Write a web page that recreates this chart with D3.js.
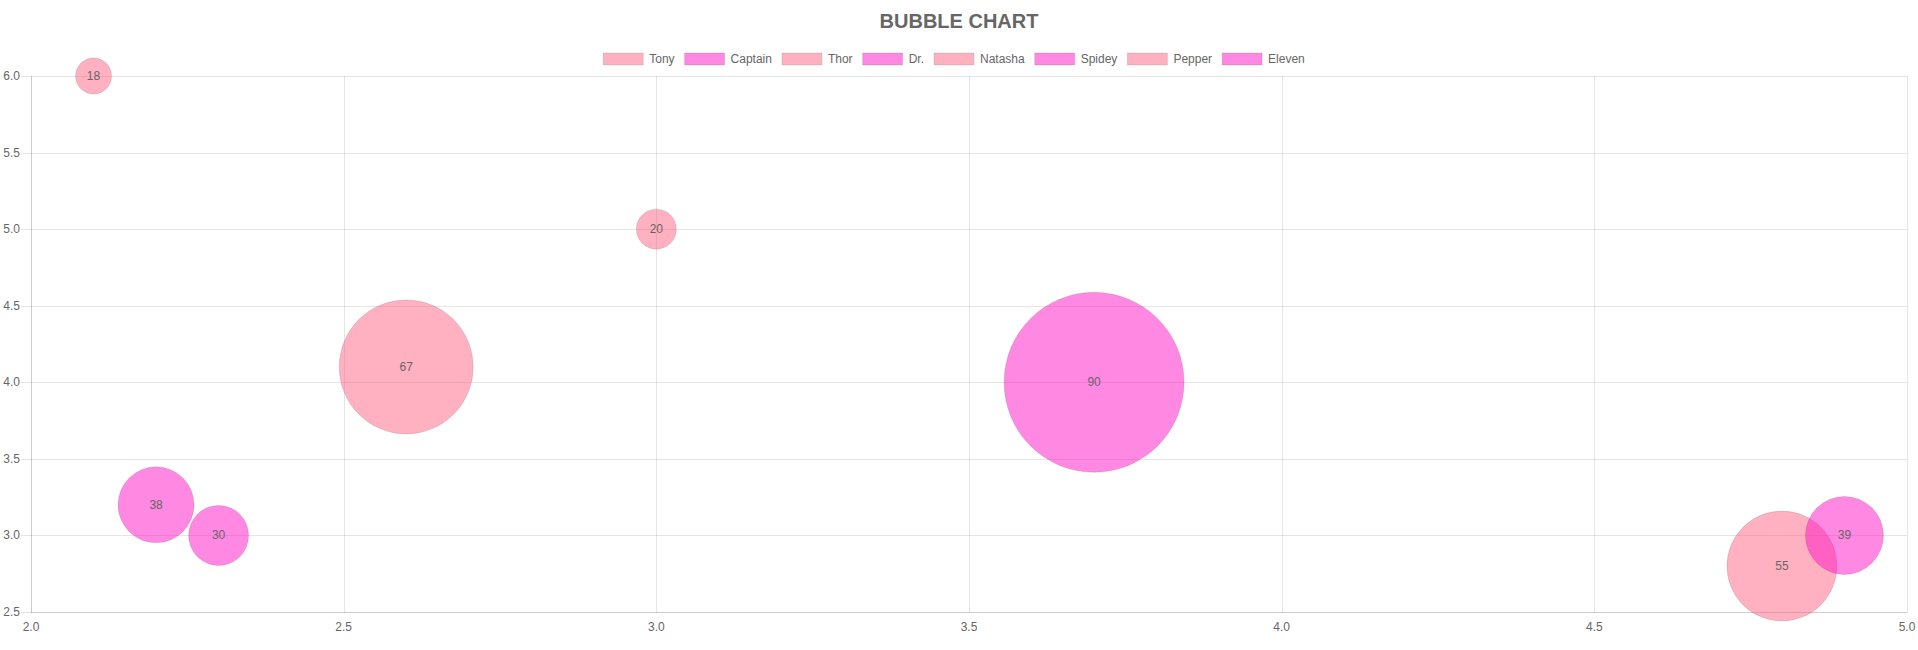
<!DOCTYPE html>
<html>
<head>
<meta charset="utf-8">
<style>
body { margin: 0; background: #fff; }
.tick-label { font: 12px Arial, "Liberation Sans", sans-serif; fill: #666; }
.grid { stroke: rgba(0,0,0,0.1); stroke-width: 1px; shape-rendering: crispEdges; }
.legendText { font: 12px Arial, "Liberation Sans", sans-serif; fill: #666; }
.bubbleLabel { font: 12px Arial, "Liberation Sans", sans-serif; fill: #666; }
</style>
<script src="https://cdn.jsdelivr.net/npm/d3@7"></script>
</head>
<body>
<div id="chart"></div>
<script>

const names = ["Tony", "Captain", "Thor", "Dr.", "Natasha", "Spidey", "Pepper", "Eleven"];
const xs = [2.1, 2.2, 2.6, 2.3, 3.0, 3.7, 4.8, 4.9];
const ys = [6.0, 3.2, 4.1, 3.0, 5.0, 4.0, 2.8, 3.0];
const rs = [18, 38, 67, 30, 20, 90, 55, 39];
const colors = ["rgba(255,99,132,0.5)", "rgba(255,17,197,0.5)"];
const xTicks = [2.0, 2.5, 3.0, 3.5, 4.0, 4.5, 5.0];
const yTicks = [2.5, 3.0, 3.5, 4.0, 4.5, 5.0, 5.5, 6.0];

const W = 1918, H = 650;
const svg = d3.select("#chart").append("svg")
  .attr("width", W)
  .attr("height", H)
  .style("display", "block");

const plotLeft = 31, plotRight = 1907, plotTop = 76, plotBottom = 612;

const x = d3.scaleLinear().domain([2, 5]).range([plotLeft, plotRight]);
const y = d3.scaleLinear().domain([2.5, 6]).range([plotBottom, plotTop]);

// title
svg.append("text")
  .attr("x", W / 2)
  .attr("y", 21)
  .attr("text-anchor", "middle")
  .attr("dominant-baseline", "central")
  .style("font", "bold 20px Arial, 'Liberation Sans', sans-serif")
  .style("fill", "#666")
  .text("BUBBLE CHART");

// grid
const gridG = svg.append("g");
gridG.selectAll(".hgrid")
  .data(yTicks)
  .enter()
  .append("line")
  .attr("class", "grid")
  .attr("x1", plotLeft - 10)
  .attr("x2", plotRight)
  .attr("y1", d => Math.round(y(d)) + 0.5)
  .attr("y2", d => Math.round(y(d)) + 0.5);

gridG.selectAll(".vgrid")
  .data(xTicks)
  .enter()
  .append("line")
  .attr("class", "grid")
  .attr("x1", d => Math.round(x(d)) + 0.5)
  .attr("x2", d => Math.round(x(d)) + 0.5)
  .attr("y1", plotTop)
  .attr("y2", plotBottom + 0.5);

// axis borders (drawn over the edge grid lines)
gridG.append("line").attr("class", "grid")
  .attr("x1", plotLeft).attr("x2", plotRight)
  .attr("y1", Math.round(y(2.5)) + 0.5).attr("y2", Math.round(y(2.5)) + 0.5);
gridG.append("line").attr("class", "grid")
  .attr("x1", Math.round(x(2)) + 0.5).attr("x2", Math.round(x(2)) + 0.5)
  .attr("y1", plotTop).attr("y2", plotBottom + 0.5);

// tick labels
svg.selectAll(".ylab")
  .data(yTicks)
  .enter()
  .append("text")
  .attr("class", "tick-label")
  .attr("x", 20)
  .attr("y", d => y(d))
  .attr("text-anchor", "end")
  .attr("dominant-baseline", "central")
  .text(d => d3.format(".1f")(d));

svg.selectAll(".xlab")
  .data(xTicks)
  .enter()
  .append("text")
  .attr("class", "tick-label")
  .attr("x", d => x(d))
  .attr("y", 627)
  .attr("text-anchor", "middle")
  .attr("dominant-baseline", "central")
  .text(d => d3.format(".1f")(d));

// bubbles
const data = names.map((n, i) => ({ name: n, x: xs[i], y: ys[i], r: rs[i], color: colors[i % 2] }));

const bubbles = svg.append("g").selectAll(".bubble")
  .data(data)
  .enter()
  .append("g")
  .attr("class", "bubble")
  .attr("transform", d => `translate(${x(d.x)}, ${y(d.y)})`);

bubbles.append("circle")
  .attr("r", d => d.r)
  .attr("fill", d => d.color)
  .attr("stroke", "rgba(0,0,0,0.1)")
  .attr("stroke-width", 1);

bubbles.append("text")
  .attr("class", "bubbleLabel")
  .attr("text-anchor", "middle")
  .attr("dominant-baseline", "central")
  .text(d => d.r);

// legend
const legendG = svg.append("g");
const boxW = 40, boxH = 12, gap = 6, pad = 10;
const items = legendG.selectAll(".legendItem")
  .data(data)
  .enter()
  .append("g")
  .attr("class", "legendItem");

items.append("rect")
  .attr("width", boxW)
  .attr("height", boxH)
  .attr("y", 53)
  .attr("fill", d => d.color)
  .attr("stroke", "rgba(0,0,0,0.1)")
  .attr("stroke-width", 1);

items.append("text")
  .attr("class", "legendText")
  .attr("x", boxW + gap)
  .attr("y", 59)
  .attr("dominant-baseline", "central")
  .text(d => d.name);

let widths = [];
items.each(function() {
  const tw = d3.select(this).select("text").node().getComputedTextLength();
  widths.push(boxW + gap + tw + pad);
});
const total = d3.sum(widths);
let cx = (W - total) / 2;
items.attr("transform", (d, i) => {
  const t = `translate(${cx}, 0)`;
  cx += widths[i];
  return t;
});

</script>
</body>
</html>
